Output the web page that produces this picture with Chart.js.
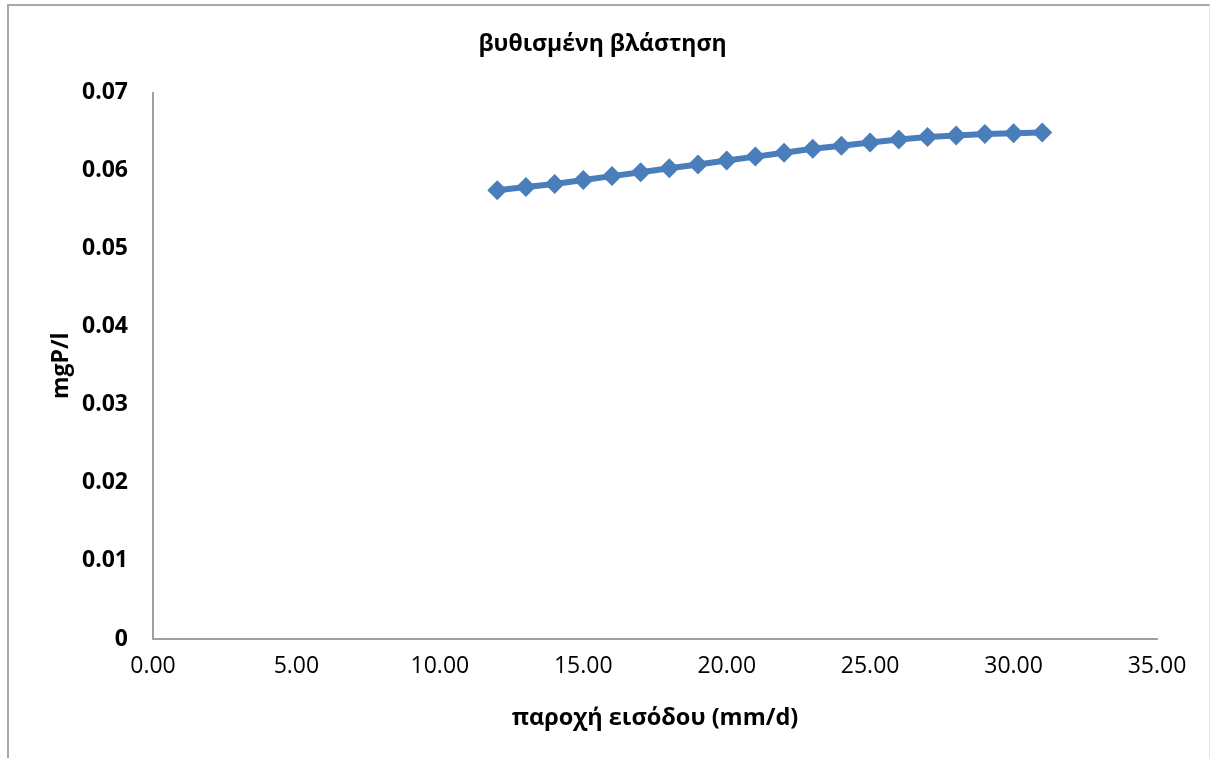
<!DOCTYPE html>
<html>
<head>
<meta charset="utf-8">
<script src="https://cdn.jsdelivr.net/npm/chart.js@4"></script>
<style>
    html, body { margin: 0; padding: 0; background: #fff; }
    #wrap { position: relative; width: 1213px; height: 758px; overflow: hidden; }
    #frame {
        position: absolute; left: 7px; top: 4px; width: 1203px; height: 760px;
        border-top: 2px solid #a8a8a8; border-left: 2px solid #a8a8a8; border-right: 1px solid #e4e4e4;
        box-sizing: border-box; pointer-events: none;
    }
    canvas { position: absolute; left: 0; top: 0; }
</style>
</head>
<body>
<div id="wrap">
    <canvas id="plant" width="1213" height="758"></canvas>
    <div id="frame"></div>
</div>
<script>
// παροχή εισόδου (mm/d)
const inflow = [12, 13, 14, 15, 16, 17, 18, 19, 20, 21, 22, 23, 24, 25, 26, 27, 28, 29, 30, 31];
// mgP/l
const concentration = [0.0575, 0.0579, 0.0583, 0.0588, 0.0593, 0.0598, 0.0603, 0.0608, 0.0613, 0.0618,
    0.0623, 0.0628, 0.0632, 0.0636, 0.0640, 0.0643, 0.0645, 0.0647, 0.0648, 0.0649];

const xTicks = [0, 5, 10, 15, 20, 25, 30, 35];
const yTicks = [0, 0.01, 0.02, 0.03, 0.04, 0.05, 0.06, 0.07];

const chartTitle = 'βυθισμένη βλάστηση';
const xTitle = 'παροχή εισόδου (mm/d)';
const yTitle = 'mgP/l';

const fontFamily = '"Open Sans", sans-serif';
const blue = '#4a7ebb';
const axisGrey = '#a0a0a0';

const points = inflow.map((x, i) => ({ x: x, y: concentration[i] }));

new Chart(document.getElementById('plant').getContext('2d'), {
    type: 'scatter',
    data: {
        datasets: [{
            label: yTitle,
            data: points,
            showLine: true,
            borderColor: blue,
            backgroundColor: blue,
            borderWidth: 6,
            pointStyle: 'rectRot',
            pointRadius: 10,
            pointHoverRadius: 10,
            pointBorderWidth: 0
        }]
    },
    options: {
        responsive: false,
        animation: false,
        layout: {
            padding: { left: 48, right: 56, top: 0, bottom: 26 }
        },
        plugins: {
            legend: { display: false },
            tooltip: { enabled: false },
            title: {
                display: true,
                text: chartTitle,
                color: '#000',
                font: { family: fontFamily, size: 23, weight: 'bold' },
                padding: { top: 31, bottom: 34 }
            }
        },
        scales: {
            x: {
                type: 'linear',
                min: 0,
                max: 35,
                afterBuildTicks: s => { s.ticks = xTicks.map(v => ({ value: v })); },
                ticks: {
                    color: '#000',
                    font: { family: fontFamily, size: 23 },
                    padding: 14,
                    maxRotation: 0,
                    callback: v => Number(v).toFixed(2)
                },
                grid: { display: false, drawTicks: false },
                border: { display: true, color: axisGrey, width: 2 },
                title: {
                    display: true,
                    text: xTitle,
                    color: '#000',
                    font: { family: fontFamily, size: 23.5, weight: 'bold' },
                    padding: { top: 18, bottom: 0 }
                },
                afterFit: s => { s.height = 93; }
            },
            y: {
                type: 'linear',
                min: 0,
                max: 0.07,
                afterBuildTicks: s => { s.ticks = yTicks.map(v => ({ value: v })); },
                ticks: {
                    color: '#000',
                    font: { family: fontFamily, size: 23, weight: 'bold' },
                    padding: 25,
                    callback: v => v === 0 ? '0' : Number(v).toFixed(2)
                },
                grid: { display: false, drawTicks: false },
                border: { display: true, color: axisGrey, width: 2 },
                title: {
                    display: true,
                    text: yTitle,
                    color: '#000',
                    font: { family: fontFamily, size: 23, weight: 'bold' },
                    padding: { top: 0, bottom: 0 }
                },
                afterFit: s => { s.width = 105; }
            }
        }
    }
});
</script>
</body>
</html>
